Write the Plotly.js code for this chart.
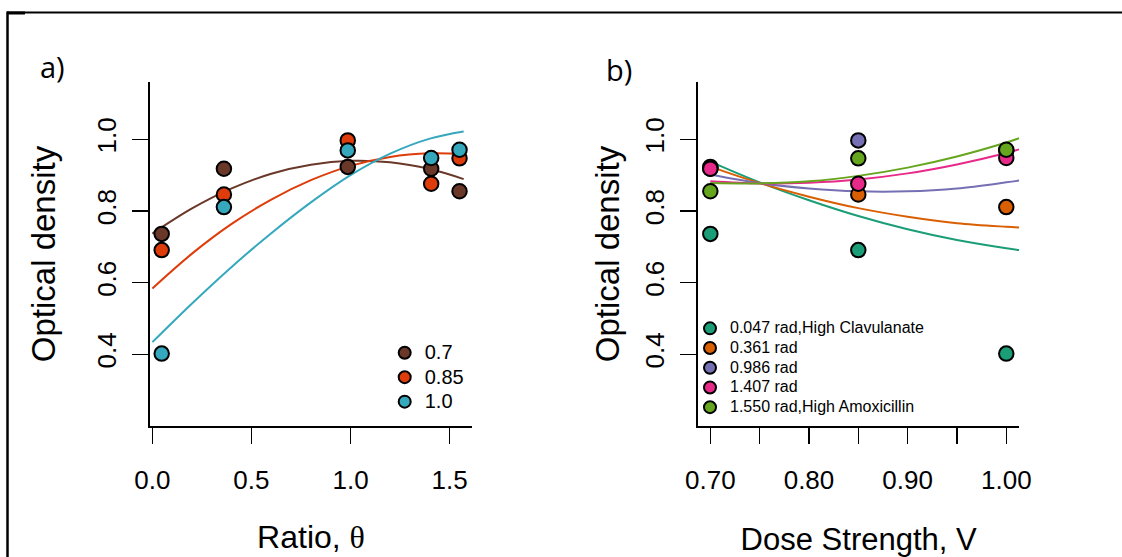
<!DOCTYPE html>
<html><head><meta charset="utf-8">
<script src="https://cdn.plot.ly/plotly-3.0.1.min.js"></script>
<style>html,body{margin:0;padding:0;background:#fff}#chart{width:1122px;height:557px}</style>
</head><body><div id="chart"></div>
<script>
// ---- observed data ----
const ratios = [0.047, 0.361, 0.986, 1.407, 1.550];
const doses = [0.70, 0.85, 1.00];
const doseLabels = ["0.7", "0.85", "1.0"];
const od_dose070 = [0.736, 0.918, 0.923, 0.918, 0.855];
const od_dose085 = [0.691, 0.846, 0.997, 0.876, 0.947];
const od_dose100 = [0.402, 0.811, 0.969, 0.948, 0.971];
const ratioLabels = ["0.047 rad,High Clavulanate", "0.361 rad", "0.986 rad", "1.407 rad", "1.550 rad,High Amoxicillin"];

// ---- fitted curves ----
const fitRatioX = [0, 0.2, 0.4, 0.6, 0.8, 1.0, 1.2, 1.4, 1.571];
const fit_dose070 = [0.737, 0.807, 0.863, 0.904, 0.929, 0.940, 0.936, 0.917, 0.889];
const fit_dose085 = [0.584, 0.681, 0.764, 0.832, 0.886, 0.926, 0.951, 0.961, 0.959];
const fit_dose100 = [0.434, 0.542, 0.644, 0.738, 0.824, 0.900, 0.960, 1.002, 1.022];

const fitDoseX = [0.70, 0.75, 0.80, 0.85, 0.90, 0.95, 1.00, 1.013];
const fit_r0047 = [0.938, 0.880, 0.830, 0.786, 0.749, 0.719, 0.696, 0.691];
const fit_r0361 = [0.924, 0.878, 0.840, 0.808, 0.784, 0.766, 0.756, 0.754];
const fit_r0986 = [0.902, 0.878, 0.863, 0.855, 0.855, 0.863, 0.880, 0.885];
const fit_r1407 = [0.883, 0.877, 0.879, 0.888, 0.905, 0.930, 0.962, 0.972];
const fit_r1550 = [0.878, 0.877, 0.883, 0.898, 0.921, 0.952, 0.991, 1.003];

const xTickVals = [0, 0.5, 1.0, 1.5];
const xTickText = ["0.0", "0.5", "1.0", "1.5"];
const x2TickVals = [0.70, 0.75, 0.80, 0.85, 0.90, 0.95, 1.00];
const x2TickText = ["0.70", "", "0.80", "", "0.90", "", "1.00"];
const yTickVals = [0.4, 0.6, 0.8, 1.0];
const yTickText = ["0.4", "0.6", "0.8", "1.0"];

const leftColors = ["#6A3828", "#DE3C0A", "#35A8BE"];
const rightColors = ["#1B9E77", "#D95F02", "#7570B3", "#E7298A", "#66A61E"];

const FONT = "Liberation Sans, Arial, sans-serif";
const doseSeries = [od_dose070, od_dose085, od_dose100];
const doseFits = [fit_dose070, fit_dose085, fit_dose100];
const ratioFits = [fit_r0047, fit_r0361, fit_r0986, fit_r1407, fit_r1550];

const traces = [];
// left curves
doseFits.forEach((f, i) => traces.push({
  x: fitRatioX, y: f, mode: 'lines', line: {color: leftColors[i], width: 2, shape: 'spline'},
  showlegend: false, xaxis: 'x', yaxis: 'y', hoverinfo: 'skip'
}));
// right curves
ratioFits.forEach((f, i) => traces.push({
  x: fitDoseX, y: f, mode: 'lines', line: {color: rightColors[i], width: 2, shape: 'spline'},
  showlegend: false, xaxis: 'x2', yaxis: 'y2', hoverinfo: 'skip'
}));
// left points
doseSeries.forEach((s, i) => traces.push({
  x: ratios, y: s, mode: 'markers',
  name: '<span style="font-size:20px">' + doseLabels[i] + '</span>',
  marker: {color: leftColors[i], size: 14.5, line: {color: '#000', width: 2}},
  xaxis: 'x', yaxis: 'y', legend: 'legend'
}));
// right points
ratios.forEach((r, j) => traces.push({
  x: doses, y: doseSeries.map(s => s[j]), mode: 'markers',
  name: '<span style="font-size:16px">' + ratioLabels[j] + '</span>',
  marker: {color: rightColors[j], size: 14.5, line: {color: '#000', width: 2}},
  xaxis: 'x2', yaxis: 'y2', legend: 'legend2'
}));

const yDom = [1 - 426 / 557, 1 - 82 / 557];
const axisCommon = {
  showline: true, linecolor: '#000', linewidth: 2, mirror: false,
  ticks: 'outside', ticklen: 16, tickwidth: 1.5, tickcolor: '#000',
  showgrid: false, zeroline: false,
  tickfont: {family: FONT, size: 26, color: '#000'}
};
const thetaTitle = 'Ratio, <span style="font-family:Liberation Serif, serif">θ</span>';

const layout = {
  width: 1122, height: 557,
  margin: {l: 0, r: 0, t: 0, b: 0},
  paper_bgcolor: '#fff', plot_bgcolor: '#fff',
  font: {family: FONT, color: '#000'},
  xaxis: Object.assign({}, axisCommon, {
    domain: [150 / 1122, 472 / 1122], range: [-0.012, 1.613],
    tickmode: 'array', tickvals: xTickVals, ticktext: xTickText, ticklabelstandoff: 14,
    title: {text: thetaTitle, font: {family: FONT, size: 32, color: '#000'}, standoff: 31}
  }),
  yaxis: Object.assign({}, axisCommon, {
    domain: yDom, range: [0.2, 1.16], anchor: 'x',
    tickmode: 'array', tickvals: yTickVals, ticktext: yTickText, tickangle: -90, ticklabelstandoff: 6,
    title: {text: 'Optical density', font: {family: FONT, size: 33, color: '#000'}, standoff: 26}
  }),
  xaxis2: Object.assign({}, axisCommon, {
    domain: [698 / 1122, 1019.3 / 1122], range: [0.6875, 1.0132], anchor: 'y2',
    tickmode: 'array', tickvals: x2TickVals, ticktext: x2TickText, ticklabelstandoff: 14,
    title: {text: 'Dose Strength, V', font: {family: FONT, size: 31, color: '#000'}, standoff: 34}
  }),
  yaxis2: Object.assign({}, axisCommon, {
    domain: yDom, range: [0.2, 1.16], anchor: 'x2',
    tickmode: 'array', tickvals: yTickVals, ticktext: yTickText, tickangle: -90, ticklabelstandoff: 6,
    title: {text: 'Optical density', font: {family: FONT, size: 33, color: '#000'}, standoff: 10}
  }),
  legend: {
    x: 384.7 / 1122, y: 1 - 335.5 / 557, xanchor: 'left', yanchor: 'top',
    bgcolor: 'rgba(0,0,0,0)', borderwidth: 0, itemsizing: 'constant',
    font: {family: FONT, size: 16.5, color: '#000'}
  },
  legend2: {
    x: 690 / 1122, y: 1 - 313.5 / 557, xanchor: 'left', yanchor: 'top',
    bgcolor: 'rgba(0,0,0,0)', borderwidth: 0, itemsizing: 'constant',
    font: {family: FONT, size: 12.85, color: '#000'}
  },
  annotations: [
    {text: 'a)', xref: 'paper', yref: 'paper', x: 53 / 1122, y: 1 - 67 / 557, showarrow: false,
     xanchor: 'center', yanchor: 'middle', font: {family: 'Open Sans, sans-serif', size: 29, color: '#000'}},
    {text: 'b)', xref: 'paper', yref: 'paper', x: 619 / 1122, y: 1 - 69 / 557, showarrow: false,
     xanchor: 'center', yanchor: 'middle', font: {family: 'Open Sans, sans-serif', size: 29, color: '#000'}}
  ],
  shapes: [
    {type: 'line', xref: 'paper', yref: 'paper', x0: 7.5 / 1122, x1: 1, y0: 1 - 12.5 / 557, y1: 1 - 12.5 / 557, line: {color: '#000', width: 2}},
    {type: 'line', xref: 'paper', yref: 'paper', x0: 7.5 / 1122, x1: 7.5 / 1122, y0: 0, y1: 1 - 11.5 / 557, line: {color: '#000', width: 2.5}},
    {type: 'line', xref: 'paper', yref: 'paper', x0: 7 / 1122, x1: 25 / 1122, y0: 1 - 13 / 557, y1: 1 - 13 / 557, line: {color: '#000', width: 3}}
  ]
};

Plotly.newPlot('chart', traces, layout, {displayModeBar: false, staticPlot: true});
</script>
</body></html>
